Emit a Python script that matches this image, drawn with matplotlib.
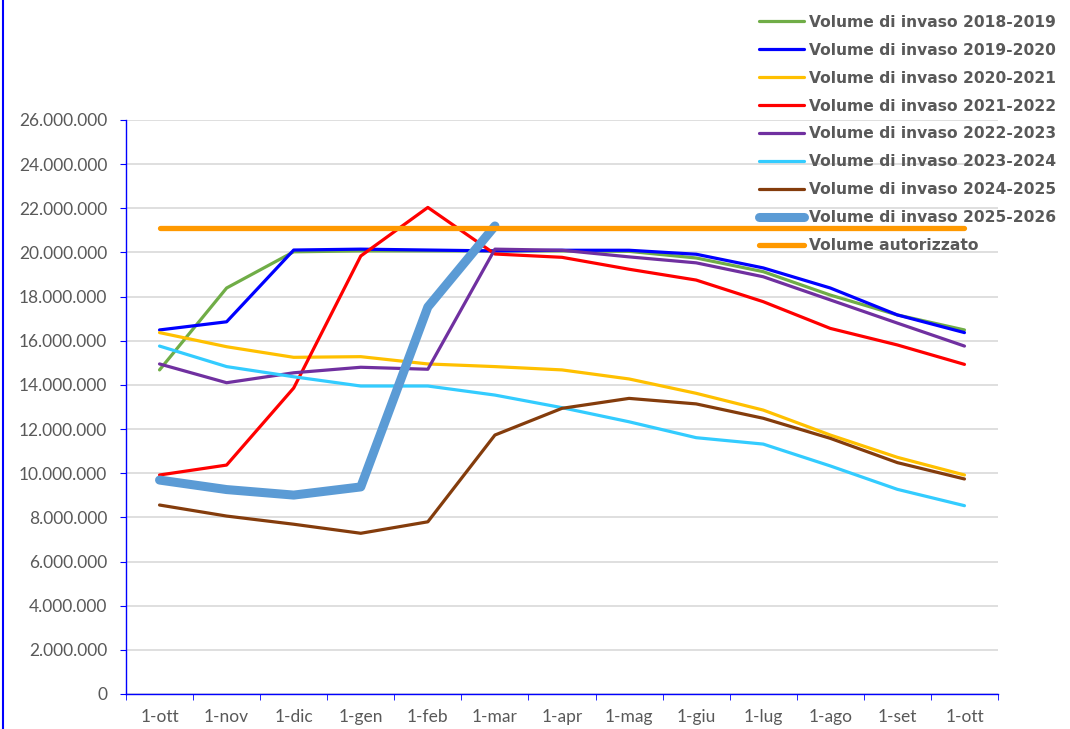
import matplotlib.pyplot as plt
from matplotlib.lines import Line2D
from matplotlib.ticker import FuncFormatter, MultipleLocator

months = ["1-ott", "1-nov", "1-dic", "1-gen", "1-feb", "1-mar", "1-apr",
          "1-mag", "1-giu", "1-lug", "1-ago", "1-set", "1-ott"]

# volumes in millions of m3
v_2018_2019 = [14.68, 18.39, 20.03, 20.07, 20.07, 20.07, 20.07, 20.05, 19.75, 19.13, 18.07, 17.17, 16.49]
v_2019_2020 = [16.49, 16.86, 20.11, 20.15, 20.11, 20.07, 20.10, 20.10, 19.92, 19.30, 18.39, 17.17, 16.37]
v_2020_2021 = [16.37, 15.73, 15.25, 15.28, 14.95, 14.83, 14.68, 14.27, 13.62, 12.86, 11.73, 10.72, 9.92]
v_2021_2022 = [9.92, 10.37, 13.86, 19.84, 22.04, 19.93, 19.78, 19.24, 18.75, 17.77, 16.56, 15.81, 14.93]
v_2022_2023 = [14.95, 14.10, 14.55, 14.80, 14.71, 20.15, 20.10, 19.80, 19.53, 18.90, 17.85, 16.80, 15.76]
v_2023_2024 = [15.76, 14.83, 14.37, 13.95, 13.95, 13.54, 12.97, 12.33, 11.61, 11.32, 10.33, 9.27, 8.53]
v_2024_2025 = [8.56, 8.06, 7.69, 7.28, 7.80, 11.73, 12.94, 13.39, 13.14, 12.49, 11.58, 10.48, 9.74]
v_2025_2026 = [9.69, 9.26, 9.01, 9.38, 17.53, 21.20]
v_autorizzato = 21.09

series = [
    ("Volume di invaso 2018-2019", v_2018_2019, "#70AD47", 2.3),
    ("Volume di invaso 2019-2020", v_2019_2020, "#0000FF", 2.3),
    ("Volume di invaso 2020-2021", v_2020_2021, "#FFC000", 2.3),
    ("Volume di invaso 2021-2022", v_2021_2022, "#FF0000", 2.3),
    ("Volume di invaso 2022-2023", v_2022_2023, "#7030A0", 2.3),
    ("Volume di invaso 2023-2024", v_2023_2024, "#33CCFF", 2.3),
    ("Volume di invaso 2024-2025", v_2024_2025, "#843C0C", 2.3),
    ("Volume di invaso 2025-2026", v_2025_2026, "#5B9BD5", 6.5),
]

fig = plt.figure(figsize=(10.7, 7.29), dpi=100)
ax = fig.add_axes([126 / 1070, 35 / 729, 872 / 1070, 574 / 729])

for label, vals, color, lw in series:
    ax.plot(range(len(vals)), [v * 1e6 for v in vals], color=color, lw=lw,
            label=label, solid_capstyle="round", solid_joinstyle="round")
ax.plot(range(len(months)), [v_autorizzato * 1e6] * len(months), color="#FF9900",
        lw=3.8, label="Volume autorizzato", solid_capstyle="round")

ax.set_xlim(-0.5, len(months) - 0.5)
ax.set_ylim(0, 26e6)
ax.yaxis.set_major_locator(MultipleLocator(2e6))
ax.yaxis.set_major_formatter(FuncFormatter(lambda v, _: f"{int(v):,}".replace(",", ".")))
ax.set_xticks(range(len(months)))
ax.set_xticklabels(months)
ax.set_xticks([i - 0.5 for i in range(len(months) + 1)], minor=True)
ax.tick_params(axis="x", which="major", length=0, pad=11)
ax.tick_params(axis="x", which="minor", length=4.5, color="#0000FF", direction="out")
ax.tick_params(axis="y", length=4.5, color="#0000FF", pad=9)
for lab in ax.get_xticklabels() + ax.get_yticklabels():
    lab.set_fontfamily("Lato")
    lab.set_fontsize(12.5)
    lab.set_color("#595959")

ax.grid(axis="y", color="#D9D9D9", lw=1.2)
ax.set_axisbelow(True)
for side in ("top", "right"):
    ax.spines[side].set_visible(False)
for side in ("left", "bottom"):
    ax.spines[side].set_color("#0000FF")
    ax.spines[side].set_linewidth(1.0)

leg = fig.legend(loc="upper left", bbox_to_anchor=(751 / 1070, 1 - 7 / 729),
                 frameon=False, borderpad=0, handlelength=2.9, handletextpad=0.3,
                 labelspacing=0.83, prop={"family": "DejaVu Sans", "weight": "bold", "size": 11.2})
for t in leg.get_texts():
    t.set_color("#595959")

fig.add_artist(Line2D([3 / 1070, 3 / 1070], [0, 1], color="#0000FF", lw=1.5))

fig.savefig("out.png", dpi=100)
